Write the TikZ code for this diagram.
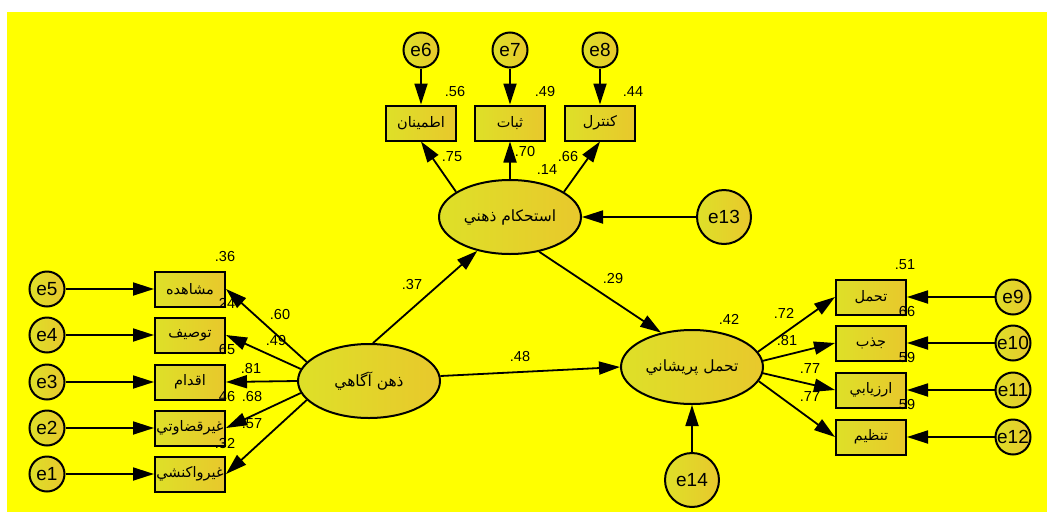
\documentclass[tikz,border=0pt]{standalone}
\usepackage{fontspec}
\setmainfont{Liberation Sans}
\newfontfamily\arabicfont[Script=Arabic]{DejaVu Sans}
\TeXXeTstate=1
\usetikzlibrary{arrows.meta,shapes.geometric}
\definecolor{bgyellow}{RGB}{255,255,0}
\definecolor{fillL}{RGB}{222,224,40}
\definecolor{fillR}{RGB}{232,200,44}
\tikzset{
  obs/.style={draw, line width=2pt, rectangle, minimum width=70pt, minimum height=35pt, inner sep=0pt, left color=fillL, right color=fillR, font=\arabicfont\fontsize{14.5}{16}\selectfont},
  err/.style={draw, circle, line width=2pt, minimum size=35pt, inner sep=0pt, left color=fillL, right color=fillR, font=\fontsize{19}{21}\selectfont},
  bigerr/.style={err, minimum size=54pt},
  lat/.style={draw, ellipse, line width=2pt, minimum width=142pt, minimum height=74pt, inner sep=0pt, left color=fillL, right color=fillR, font=\arabicfont\fontsize{15.5}{17}\selectfont},
  arr/.style={line width=1.8pt, -{Triangle[length=21pt,width=13pt]}},
  coef/.style={font=\fontsize{14.5}{16}\selectfont, inner sep=0pt},
}
\begin{document}
\begin{tikzpicture}[x=1pt,y=-1pt]
\useasboundingbox (0,0) rectangle (1047,512);
\fill[white] (0,0) rectangle (1047,512);
\fill[bgyellow] (7,12) rectangle (1047,512);
% latent
\node[lat] (dzh) at (369,381) {\beginR ذهن آگاهي\endR};
\node[lat] (ast) at (510,217) {\beginR استحكام ذهني\endR};
\node[lat] (tp) at (692,367) {\beginR تحمل پريشاني\endR};
% left observed
\node[obs] (b5) at (190,289) {\beginR مشاهده\endR};
\node[obs] (b4) at (190,335) {\beginR توصيف\endR};
\node[obs] (b3) at (190,382) {\beginR اقدام\endR};
\node[obs] (b2) at (190,428) {\beginR غيرقضاوتي\endR};
\node[obs] (b1) at (190,474) {\beginR غيرواكنشي\endR};
\node[err] (e5) at (47,289) {e5};
\node[err] (e4) at (47,335) {e4};
\node[err] (e3) at (47,382) {e3};
\node[err] (e2) at (47,428) {e2};
\node[err] (e1) at (47,474) {e1};
% top observed
\node[obs] (t1) at (421,123) {\beginR اطمينان\endR};
\node[obs] (t2) at (510,123) {\beginR ثبات\endR};
\node[obs] (t3) at (600,123) {\beginR كنترل\endR};
\node[err] (e6) at (421,50) {e6};
\node[err] (e7) at (510,50) {e7};
\node[err] (e8) at (600,50) {e8};
% right observed
\node[obs] (r1) at (871,297) {\beginR تحمل\endR};
\node[obs] (r2) at (871,343) {\beginR جذب\endR};
\node[obs] (r3) at (871,390) {\beginR ارزيابي\endR};
\node[obs] (r4) at (871,437) {\beginR تنظيم\endR};
\node[err] (e9) at (1013,297) {e9};
\node[err] (e10) at (1013,343) {e10};
\node[err] (e11) at (1013,390) {e11};
\node[err] (e12) at (1013,437) {e12};
% disturbances
\node[bigerr] (e13) at (724,217) {e13};
\node[bigerr] (e14) at (692,480) {e14};
% arrows left
\foreach \i in {1,...,5} {\draw[arr] (e\i) -- (b\i);}
\draw[arr] (dzh.163) -- (b5.east);
\draw[arr] (dzh.170) -- (b4.east);
\draw[arr] (dzh.180) -- (b3.east);
\draw[arr] (dzh.190) -- (b2.east);
\draw[arr] (dzh.197) -- (b1.east);
% arrows top
\draw[arr] (e6) -- (t1);
\draw[arr] (e7) -- (t2);
\draw[arr] (e8) -- (t3);
\draw[arr] (ast.155) -- (t1.south);
\draw[arr] (ast.north) -- (t2.south);
\draw[arr] (ast.25) -- (t3.south);
\draw[arr] (e13) -- (ast);
% structural
\draw[arr] (dzh.84) -- (ast.226);
\draw[arr] (ast.310) -- (tp.132);
\draw[arr] (dzh.4) -- (tp.west);
\draw[arr] (e14) -- (tp);
% right
\draw[arr] (tp.13) -- (r1.west);
\draw[arr] (tp.5) -- (r2.west);
\draw[arr] (tp.355) -- (r3.west);
\draw[arr] (tp.348) -- (r4.west);
\draw[arr] (e9) -- (r1);
\draw[arr] (e10) -- (r2);
\draw[arr] (e11) -- (r3);
\draw[arr] (e12) -- (r4);
% coefficients
\node[coef] (c36) at (225,257) {.36};
\node[coef] (c24) at (225,303) {.24};
\node[coef] (c65) at (225,350) {.65};
\node[coef] (c46) at (225,397) {.46};
\node[coef] (c32) at (225,443) {.32};
\node[coef] (c60) at (280,315) {.60};
\node[coef] (c49a) at (276,341) {.49};
\node[coef] (c81a) at (251,369) {.81};
\node[coef] (c68) at (252,397) {.68};
\node[coef] (c57) at (252,424) {.57};
\node[coef] (c56) at (455,92) {.56};
\node[coef] (c49b) at (545,92) {.49};
\node[coef] (c44) at (633,92) {.44};
\node[coef] (c75) at (452,157) {.75};
\node[coef] (c70) at (525,152) {.70};
\node[coef] (c66a) at (568,157) {.66};
\node[coef] (c14) at (547,170) {.14};
\node[coef] (c37) at (412,285) {.37};
\node[coef] (c29) at (613,279) {.29};
\node[coef] (c48) at (520,357) {.48};
\node[coef] (c42) at (729,319) {.42};
\node[coef] (c51) at (905,265) {.51};
\node[coef] (c66b) at (905,312) {.66};
\node[coef] (c59a) at (905,358) {.59};
\node[coef] (c59b) at (905,405) {.59};
\node[coef] (c72) at (784,313) {.72};
\node[coef] (c81b) at (787,341) {.81};
\node[coef] (c77a) at (810,369) {.77};
\node[coef] (c77b) at (810,397) {.77};
\end{tikzpicture}
\end{document}
